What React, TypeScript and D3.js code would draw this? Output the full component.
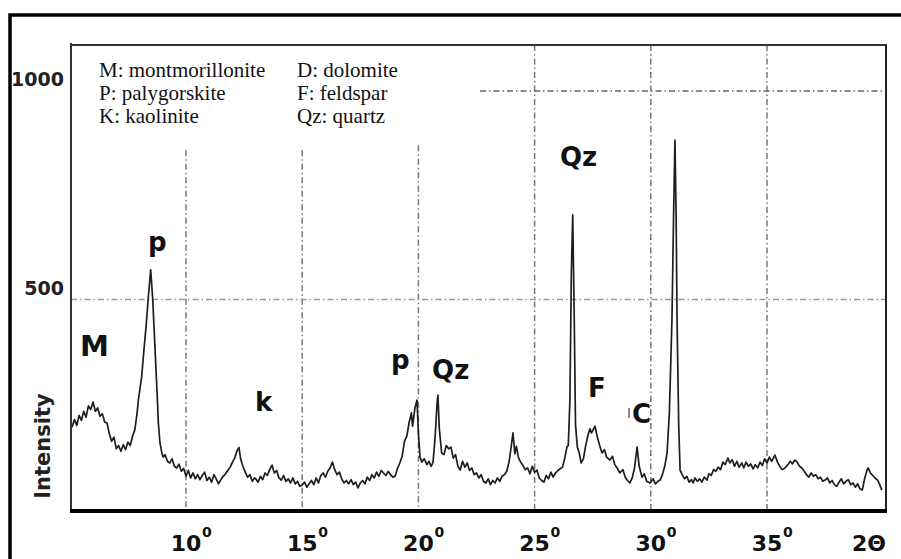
import React from "react";
import * as d3 from "d3";

// XRD scan: [2θ (deg), intensity (counts)]
const scan: [number, number][] = [
  [5.0, 204], [5.1, 195], [5.2, 212], [5.3, 198], [5.4, 222], [5.5, 210], [5.6, 232], [5.7, 218],
  [5.8, 245], [5.9, 236], [6.0, 254], [6.1, 232], [6.2, 240], [6.3, 220], [6.4, 226], [6.5, 206],
  [6.6, 204], [6.7, 178], [6.8, 160], [6.9, 170], [7.0, 142], [7.1, 150], [7.2, 136], [7.3, 152],
  [7.4, 140], [7.5, 158], [7.6, 150], [7.7, 172], [7.8, 188], [7.9, 230], [7.95, 259], [8.09, 314],
  [8.19, 379], [8.28, 434], [8.38, 506], [8.48, 571], [8.57, 499], [8.67, 379], [8.77, 259], [8.81, 204],
  [8.88, 156], [8.95, 135], [9.01, 122], [9.1, 128], [9.2, 112], [9.3, 108], [9.4, 118], [9.5, 100],
  [9.6, 96], [9.7, 105], [9.8, 88], [9.9, 95], [10.0, 76], [10.1, 90], [10.2, 72], [10.3, 84],
  [10.4, 70], [10.5, 80], [10.6, 68], [10.7, 78], [10.8, 86], [10.9, 66], [11.0, 74], [11.1, 62],
  [11.2, 80], [11.3, 70], [11.4, 58], [11.5, 68], [11.6, 76], [11.7, 82], [11.8, 90], [11.9, 98],
  [12.0, 110], [12.1, 120], [12.2, 138], [12.28, 145], [12.35, 118], [12.45, 100], [12.55, 86], [12.65, 74],
  [12.75, 80], [12.85, 64], [12.95, 72], [13.0, 70], [13.1, 62], [13.2, 76], [13.3, 68], [13.4, 84],
  [13.5, 78], [13.6, 92], [13.7, 103], [13.8, 84], [13.9, 90], [14.0, 72], [14.1, 67], [14.2, 78],
  [14.3, 64], [14.4, 70], [14.5, 60], [14.6, 72], [14.7, 58], [14.8, 64], [14.9, 52], [15.0, 55],
  [15.1, 62], [15.2, 50], [15.3, 58], [15.4, 66], [15.5, 56], [15.6, 72], [15.7, 60], [15.8, 78],
  [15.9, 84], [16.0, 74], [16.1, 88], [16.2, 96], [16.3, 110], [16.4, 92], [16.5, 80], [16.6, 86],
  [16.7, 70], [16.8, 60], [16.9, 66], [17.0, 58], [17.1, 68], [17.2, 56], [17.3, 62], [17.4, 48],
  [17.5, 60], [17.6, 66], [17.7, 58], [17.8, 74], [17.9, 66], [18.0, 80], [18.1, 72], [18.2, 86],
  [18.3, 76], [18.4, 90], [18.5, 84], [18.6, 78], [18.7, 88], [18.8, 80], [18.9, 74], [19.0, 76],
  [19.1, 95], [19.2, 108], [19.3, 124], [19.4, 160], [19.5, 172], [19.6, 205], [19.7, 228], [19.75, 196],
  [19.85, 240], [19.94, 259], [20.0, 180], [20.07, 122], [20.15, 110], [20.25, 118], [20.37, 104], [20.45, 112],
  [20.55, 100], [20.63, 110], [20.72, 170], [20.8, 250], [20.84, 271], [20.9, 190], [21.0, 132], [21.1, 128],
  [21.2, 150], [21.3, 142], [21.4, 146], [21.5, 120], [21.6, 128], [21.7, 100], [21.8, 91], [21.9, 112],
  [22.0, 98], [22.1, 108], [22.2, 90], [22.3, 96], [22.4, 80], [22.5, 84], [22.6, 72], [22.7, 80],
  [22.8, 64], [22.9, 60], [23.0, 70], [23.1, 56], [23.2, 66], [23.3, 60], [23.4, 72], [23.5, 64],
  [23.6, 76], [23.7, 80], [23.8, 88], [23.9, 110], [24.0, 150], [24.07, 180], [24.15, 130], [24.22, 148],
  [24.3, 122], [24.4, 110], [24.5, 102], [24.6, 92], [24.7, 96], [24.8, 82], [24.9, 100], [25.0, 86],
  [25.1, 91], [25.2, 72], [25.3, 66], [25.4, 62], [25.5, 78], [25.6, 70], [25.7, 86], [25.8, 74],
  [25.9, 84], [26.0, 90], [26.1, 94], [26.2, 98], [26.3, 120], [26.39, 146], [26.45, 150], [26.52, 260],
  [26.58, 560], [26.64, 703], [26.7, 480], [26.76, 200], [26.84, 146], [26.92, 132], [27.0, 108], [27.1, 118],
  [27.2, 150], [27.3, 175], [27.38, 190], [27.45, 180], [27.52, 188], [27.6, 196], [27.7, 170], [27.8, 150],
  [27.9, 132], [28.0, 140], [28.1, 122], [28.24, 115], [28.35, 124], [28.45, 104], [28.55, 96], [28.67, 84],
  [28.8, 92], [28.9, 74], [29.0, 66], [29.1, 60], [29.2, 72], [29.3, 96], [29.41, 146], [29.5, 100],
  [29.62, 74], [29.72, 82], [29.82, 64], [29.97, 60], [30.1, 70], [30.2, 58], [30.3, 64], [30.4, 67],
  [30.5, 80], [30.6, 100], [30.7, 132], [30.8, 230], [30.91, 451], [30.98, 700], [31.04, 882], [31.09, 700],
  [31.13, 451], [31.2, 200], [31.26, 91], [31.35, 80], [31.45, 70], [31.55, 76], [31.65, 62], [31.75, 68],
  [31.82, 60], [31.9, 72], [32.0, 64], [32.1, 70], [32.2, 62], [32.3, 74], [32.42, 67], [32.5, 82],
  [32.6, 78], [32.7, 92], [32.8, 88], [32.9, 98], [33.0, 92], [33.1, 110], [33.2, 104], [33.32, 120],
  [33.4, 108], [33.5, 116], [33.6, 100], [33.7, 112], [33.8, 98], [33.92, 108], [34.0, 96], [34.1, 110],
  [34.2, 100], [34.3, 106], [34.4, 94], [34.5, 104], [34.6, 96], [34.7, 110], [34.8, 102], [34.9, 118],
  [35.0, 108], [35.1, 122], [35.2, 112], [35.34, 127], [35.45, 110], [35.55, 100], [35.65, 92], [35.77, 96],
  [35.9, 104], [36.0, 112], [36.1, 106], [36.2, 115], [36.3, 110], [36.4, 100], [36.5, 96], [36.6, 88],
  [36.7, 80], [36.8, 74], [36.9, 84], [37.0, 76], [37.1, 80], [37.2, 70], [37.3, 74], [37.4, 64],
  [37.5, 67], [37.6, 72], [37.7, 60], [37.8, 66], [37.9, 56], [38.0, 52], [38.1, 62], [38.2, 70],
  [38.3, 58], [38.4, 64], [38.5, 68], [38.6, 56], [38.7, 60], [38.8, 50], [38.9, 58], [39.0, 46],
  [39.1, 43], [39.2, 70], [39.3, 90], [39.35, 96], [39.45, 84], [39.55, 78], [39.65, 72], [39.76, 67],
  [39.85, 56], [39.94, 43],
];

const xTicks = [10, 15, 20, 25, 30, 35];
const yTicks = [500, 1000];
const xUnit = "2Θ";
const yTitle = "Intensity";
const legendLeft = ["M: montmorillonite", "P: palygorskite", "K: kaolinite"];
const legendRight = ["D: dolomite", "F: feldspar", "Qz: quartz"];
// peak annotations, anchored in data units [2θ, counts]
const peakText = ["M", "p", "k", "p", "Qz", "Qz", "F", "C"];
const peakAt: [number, number][] = [
  [5.44, 364], [8.36, 616], [12.97, 233], [18.82, 333], [20.59, 309], [26.09, 820], [27.3, 266], [29.19, 204],
];

const W = 901;
const H = 559;
const L = 71, R = 886, T = 45, B = 511;

export default function App() {
  const x = d3.scaleLinear().domain([5, 40]).range([69.8, 883.2]);
  const y = d3.scaleLinear().domain([0, 1000]).range([508, 91]);
  const line = d3
    .line<[number, number]>()
    .x((d) => x(d[0]))
    .y((d) => y(d[1]));

  const sans = "'DejaVu Sans', sans-serif";
  const serif = "'Liberation Serif', 'Times New Roman', serif";
  const grid = "#777";
  const dash = "6,3,1.5,3";
  const vTop = [y(858), y(858), y(870), T, T, T];

  return (
    <svg
      width={W}
      height={H}
      viewBox={`0 0 ${W} ${H}`}
      style={{ position: "absolute", left: 0, top: 0, background: "#fff" }}
    >
      <defs>
        <clipPath id="plotClip">
          <rect x={L} y={T} width={R - L} height={B - T} />
        </clipPath>
      </defs>
      {/* outer frame */}
      <path d={`M10,${H + 5} V15 H${W + 5}`} fill="none" stroke="#000" strokeWidth={3.5} />

      {/* grid */}
      {xTicks.map((t, i) => (
        <line key={"vg" + t} x1={x(t)} x2={x(t)} y1={vTop[i]} y2={B} stroke={grid} strokeWidth={1.5} strokeDasharray={dash} />
      ))}
      <line x1={L} x2={R} y1={y(500)} y2={y(500)} stroke="#999" strokeWidth={1.5} strokeDasharray={dash} />
      <line x1={480} x2={R} y1={y(1000)} y2={y(1000)} stroke="#666" strokeWidth={1.5} strokeDasharray={dash} />

      {/* trace */}
      <path d={line(scan) || ""} fill="none" stroke="#1e1e1e" strokeWidth={1.7} strokeLinejoin="round" clipPath="url(#plotClip)" />

      {/* plot frame */}
      <line x1={L} x2={L} y1={T - 2} y2={B} stroke="#333" strokeWidth={2} />
      <line x1={L - 1} x2={R + 1} y1={T} y2={T} stroke="#333" strokeWidth={2} />
      <line x1={R} x2={R} y1={T} y2={B} stroke="#222" strokeWidth={2} />
      <line x1={L - 1} x2={R + 1} y1={B} y2={B} stroke="#000" strokeWidth={4} />

      {/* y tick labels */}
      {yTicks.map((t) => (
        <text key={"yl" + t} x={64} y={y(t) - 5} textAnchor="end" fontFamily={sans} fontWeight="bold" fontSize={19} fill="#222">
          {t}
        </text>
      ))}
      <text
        transform={`translate(50,446) rotate(-90)`}
        textAnchor="middle"
        fontFamily={sans}
        fontWeight="bold"
        fontSize={21}
        fill="#222"
      >
        {yTitle}
      </text>

      {/* x tick labels */}
      {xTicks.map((t) => (
        <g key={"xl" + t}>
          <text x={x(t)} y={551} textAnchor="middle" fontFamily={sans} fontWeight="bold" fontSize={22} fill="#111">
            {t}
          </text>
          <text x={x(t) + 16} y={537} fontFamily={sans} fontWeight="bold" fontSize={14} fill="#111">
            0
          </text>
        </g>
      ))}
      <text x={869} y={551} textAnchor="middle" fontFamily={sans} fontWeight="bold" fontSize={22} fill="#111">
        {xUnit}
      </text>

      {/* legend */}
      {legendLeft.map((s, i) => (
        <text key={"ll" + i} x={99} y={77 + i * 23} fontFamily={serif} fontSize={21} fill="#111">
          {s}
        </text>
      ))}
      {legendRight.map((s, i) => (
        <text key={"lr" + i} x={297} y={77 + i * 23} fontFamily={serif} fontSize={21} fill="#111">
          {s}
        </text>
      ))}

      {/* peak labels */}
      {peakText.map((s, i) => (
        <text
          key={"pk" + i}
          x={x(peakAt[i][0])}
          y={y(peakAt[i][1])}
          fontFamily={sans}
          fontWeight="bold"
          fontSize={s === "M" ? 29 : 26}
          fill="#111"
        >
          {s}
        </text>
      ))}
      <line x1={629} x2={629} y1={408} y2={418} stroke="#666" strokeWidth={1.5} />
    </svg>
  );
}
